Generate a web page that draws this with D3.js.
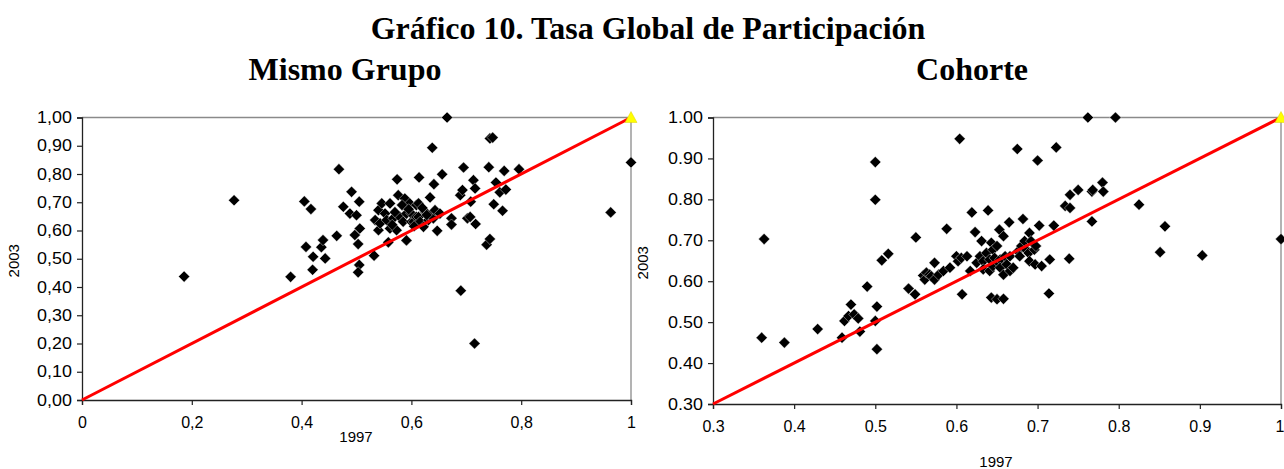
<!DOCTYPE html>
<html>
<head>
<meta charset="utf-8">
<script src="https://cdn.jsdelivr.net/npm/d3@7/dist/d3.min.js"></script>
<style>
  html, body { margin: 0; padding: 0; background: #fff; }
  svg { display: block; }
</style>
</head>
<body>
<svg id="chart" width="1284" height="469"></svg>
<script>
// Participation rate, 1997 (x) vs 2003 (y), per group
const mismoX = [0.186,0.277,0.380,0.405,0.417,0.408,0.420,0.421,0.436,0.439,0.443,0.464,0.468,0.476,0.488,0.491,0.497,0.500,0.503,0.505,0.506,0.505,0.503,0.532,0.534,0.540,0.540,0.543,0.546,0.552,0.555,0.558,0.561,0.561,0.567,0.573,0.574,0.576,0.579,0.585,0.588,0.591,0.591,0.597,0.600,0.600,0.604,0.609,0.609,0.613,0.613,0.614,0.616,0.622,0.625,0.631,0.634,0.634,0.638,0.640,0.641,0.643,0.647,0.652,0.656,0.665,0.673,0.673,0.689,0.690,0.693,0.695,0.702,0.707,0.708,0.713,0.716,0.717,0.715,0.737,0.741,0.743,0.743,0.748,0.750,0.754,0.761,0.766,0.769,0.772,0.796,0.963,1.000,0.570,0.583,0.595,0.620,0.605,0.565,0.628];
const mismoY = [0.437,0.707,0.436,0.703,0.676,0.542,0.461,0.507,0.541,0.566,0.501,0.581,0.817,0.684,0.660,0.737,0.584,0.654,0.552,0.702,0.607,0.478,0.452,0.511,0.637,0.672,0.601,0.625,0.696,0.660,0.637,0.558,0.696,0.607,0.643,0.601,0.781,0.725,0.648,0.631,0.713,0.660,0.565,0.696,0.631,0.660,0.631,0.690,0.648,0.648,0.696,0.788,0.631,0.613,0.666,0.637,0.654,0.717,0.893,0.643,0.764,0.672,0.599,0.660,0.799,1.000,0.643,0.621,0.725,0.387,0.743,0.823,0.643,0.648,0.702,0.778,0.749,0.623,0.200,0.550,0.824,0.570,0.926,0.929,0.693,0.770,0.735,0.670,0.811,0.745,0.817,0.664,0.841,0.665,0.690,0.675,0.680,0.615,0.620,0.655];

const cohorteX = [0.360,0.363,0.388,0.429,0.459,0.462,0.467,0.470,0.474,0.479,0.481,0.490,0.500,0.500,0.500,0.502,0.502,0.508,0.516,0.541,0.549,0.550,0.559,0.561,0.563,0.567,0.569,0.573,0.573,0.578,0.584,0.588,0.592,0.600,0.602,0.604,0.606,0.607,0.613,0.617,0.619,0.623,0.625,0.629,0.631,0.633,0.633,0.637,0.639,0.641,0.641,0.643,0.643,0.645,0.645,0.647,0.650,0.650,0.652,0.653,0.654,0.654,0.658,0.658,0.658,0.660,0.662,0.665,0.666,0.666,0.670,0.675,0.676,0.678,0.680,0.682,0.684,0.686,0.689,0.690,0.690,0.692,0.696,0.697,0.698,0.700,0.702,0.705,0.714,0.715,0.720,0.723,0.734,0.739,0.740,0.740,0.750,0.762,0.767,0.767,0.768,0.780,0.781,0.796,0.825,0.851,0.857,0.903,1.000];
const cohorteY = [0.462,0.703,0.450,0.483,0.462,0.503,0.515,0.543,0.519,0.509,0.477,0.587,0.503,0.891,0.799,0.538,0.434,0.651,0.667,0.582,0.568,0.707,0.614,0.604,0.621,0.616,0.612,0.604,0.645,0.616,0.625,0.728,0.633,0.661,0.649,0.948,0.657,0.568,0.661,0.625,0.768,0.720,0.645,0.661,0.698,0.649,0.629,0.669,0.773,0.653,0.625,0.694,0.560,0.677,0.637,0.657,0.686,0.556,0.645,0.726,0.653,0.633,0.710,0.616,0.557,0.661,0.641,0.744,0.661,0.625,0.633,0.923,0.673,0.661,0.686,0.752,0.698,0.677,0.669,0.718,0.649,0.698,0.677,0.641,0.686,0.895,0.736,0.637,0.570,0.653,0.736,0.927,0.784,0.655,0.779,0.811,0.823,1.000,0.746,0.819,0.823,0.841,0.819,1.000,0.787,0.671,0.734,0.663,0.703];

const mismoXTicks = [0, 0.2, 0.4, 0.6, 0.8, 1];
const mismoYTicks = [0, 0.1, 0.2, 0.3, 0.4, 0.5, 0.6, 0.7, 0.8, 0.9, 1];
const cohorteXTicks = [0.3, 0.4, 0.5, 0.6, 0.7, 0.8, 0.9, 1];
const cohorteYTicks = [0.3, 0.4, 0.5, 0.6, 0.7, 0.8, 0.9, 1];

const svg = d3.select("#chart");
const serif = "'Liberation Serif', 'Times New Roman', serif";
const sans = "'Liberation Sans', Arial, sans-serif";

svg.append("text").attr("x", 648).attr("y", 39).attr("text-anchor", "middle")
  .attr("font-family", serif).attr("font-weight", "bold").attr("font-size", 32)
  .text("Gráfico 10. Tasa Global de Participación");
svg.append("text").attr("x", 345).attr("y", 80).attr("text-anchor", "middle")
  .attr("font-family", serif).attr("font-weight", "bold").attr("font-size", 32)
  .text("Mismo Grupo");
svg.append("text").attr("x", 972).attr("y", 80).attr("text-anchor", "middle")
  .attr("font-family", serif).attr("font-weight", "bold").attr("font-size", 32)
  .text("Cohorte");

const comma = d => d3.format(".2f")(d).replace(".", ",");

function panel(cfg) {
  const x = d3.scaleLinear().domain(cfg.xDomain).range([cfg.left, cfg.right]);
  const y = d3.scaleLinear().domain(cfg.yDomain).range([cfg.bottom, cfg.top]);
  const g = svg.append("g");

  // plot frame: grey top/right, dark axes left/bottom
  g.append("line").attr("x1", cfg.left).attr("x2", cfg.right).attr("y1", cfg.top).attr("y2", cfg.top)
    .attr("stroke", "#8a8a8a").attr("stroke-width", 1.3);
  g.append("line").attr("x1", cfg.right).attr("x2", cfg.right).attr("y1", cfg.top).attr("y2", cfg.bottom)
    .attr("stroke", "#8a8a8a").attr("stroke-width", 1.3);

  const ya = g.append("g").attr("transform", `translate(${cfg.left},0)`)
    .call(d3.axisLeft(y).tickValues(cfg.yTicks).tickFormat(cfg.yFmt).tickSize(5).tickPadding(4));
  const xa = g.append("g").attr("transform", `translate(0,${cfg.bottom})`)
    .call(d3.axisBottom(x).tickValues(cfg.xTicks).tickFormat(cfg.xFmt).tickSize(5).tickPadding(cfg.xPad));
  [ya, xa].forEach(a => {
    a.selectAll("path.domain").attr("stroke", "#222").attr("stroke-width", 1.3);
    a.selectAll(".tick line").attr("stroke", "#222").attr("stroke-width", 1.2);
    a.selectAll(".tick text").attr("font-family", sans).attr("font-size", 16).attr("fill", "#000");
  });
  // slightly wide value labels on the vertical axis
  ya.selectAll(".tick text").attr("transform", "scale(1.12,1)");
  // keep the last x label inside the page edge
  if (cfg.lastLabelEnd) {
    xa.selectAll(".tick text").filter(d => d === 1).attr("text-anchor", "end").attr("dx", 3);
  }

  // axis titles
  g.append("text").attr("transform", `translate(${cfg.yTitleX},${(cfg.top + cfg.bottom) / 2 + 2}) rotate(-90)`)
    .attr("text-anchor", "middle").attr("font-family", sans).attr("font-size", 15).text("2003");
  g.append("text").attr("x", cfg.xTitleX).attr("y", cfg.xTitleY)
    .attr("text-anchor", "middle").attr("font-family", sans).attr("font-size", 15).text("1997");

  // points
  const pts = cfg.xs.map((v, i) => [v, cfg.ys[i]]);
  const r = 5.6;
  g.append("g").selectAll("path").data(pts).join("path")
    .attr("d", d => {
      const cx = x(d[0]), cy = y(d[1]);
      return `M${cx},${cy - r}L${cx + r},${cy}L${cx},${cy + r}L${cx - r},${cy}Z`;
    })
    .attr("fill", "#000").attr("stroke", "#fff").attr("stroke-width", 0.4);

  // 45-degree reference line
  const lo = cfg.xDomain[0];
  g.append("line")
    .attr("x1", x(lo)).attr("y1", y(lo)).attr("x2", x(1)).attr("y2", y(1))
    .attr("stroke", "#ff0000").attr("stroke-width", 3);

  // end marker at (1,1)
  const tx = x(1), ty = y(1);
  g.append("path").attr("d", `M${tx},${ty - 6}L${tx + 6},${ty + 5}L${tx - 6},${ty + 5}Z`)
    .attr("fill", "#ffff00").attr("stroke", "#e0d000").attr("stroke-width", 0.5);
}

panel({
  xs: mismoX, ys: mismoY,
  xDomain: [0, 1], yDomain: [0, 1],
  left: 82, right: 631, top: 117.5, bottom: 400,
  xTicks: mismoXTicks, yTicks: mismoYTicks,
  xFmt: d => (d === 0 || d === 1) ? String(d) : String(d).replace(".", ","),
  yFmt: comma, xPad: 12,
  yTitleX: 19, xTitleX: 356, xTitleY: 442
});

panel({
  xs: cohorteX, ys: cohorteY,
  xDomain: [0.3, 1], yDomain: [0.3, 1],
  left: 713, right: 1281, top: 117.5, bottom: 404,
  xTicks: cohorteXTicks, yTicks: cohorteYTicks,
  xFmt: d => d === 1 ? "1" : d3.format(".1f")(d),
  yFmt: d3.format(".2f"), xPad: 12,
  yTitleX: 648, xTitleX: 996, xTitleY: 467,
  lastLabelEnd: true
});
</script>
</body>
</html>
